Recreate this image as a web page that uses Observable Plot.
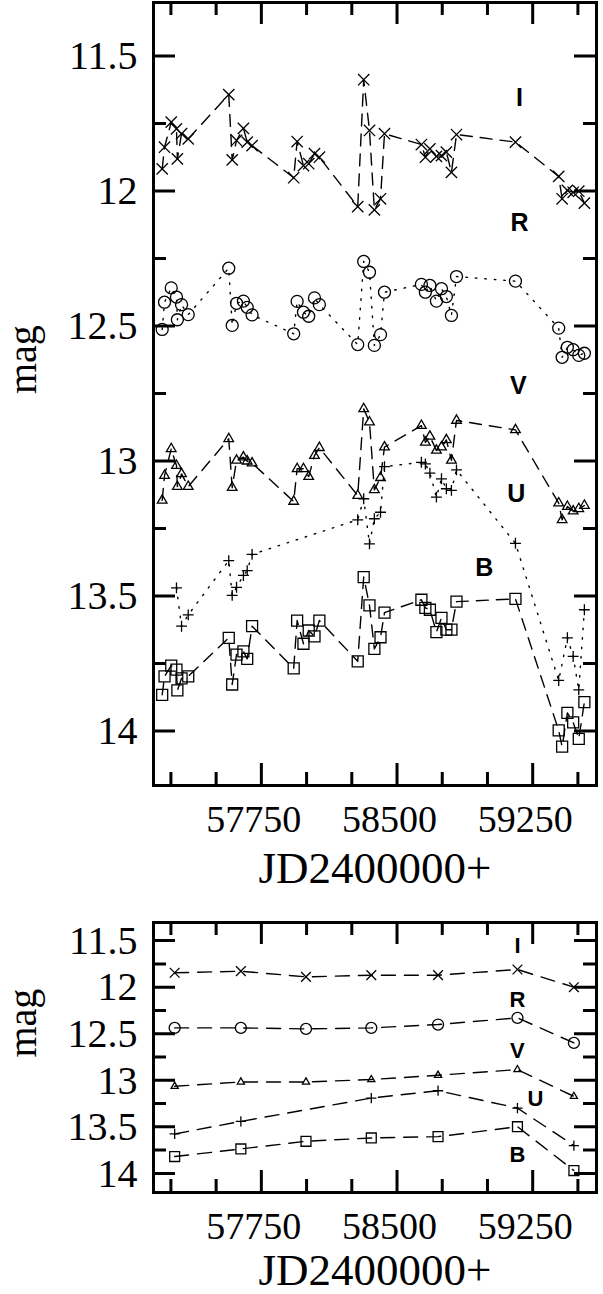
<!DOCTYPE html>
<html>
<head>
<meta charset="utf-8">
<script src="https://cdn.jsdelivr.net/npm/d3@7"></script>
<script src="https://cdn.jsdelivr.net/npm/@observablehq/plot@0.6"></script>
<style>
  body { margin: 0; background: #fff; }
  svg { display: block; }
</style>
</head>
<body>
<div id="chart"></div>
<script>
// ---- Individual observations (top panel) ----
const jd = [
  57199, 57212, 57249, 57278, 57283, 57306, 57343,
  57567, 57586, 57610, 57648, 57669, 57696,
  57926, 57945, 57980, 58009, 58041, 58068,
  58280, 58313, 58345, 58372, 58406, 58428,
  58632, 58654, 58679, 58715, 58743, 58770, 58798, 58826,
  59152,
  59391, 59410, 59439, 59471, 59502, 59533
];
const magI = [
  11.916, 11.836, 11.743, 11.768, 11.879, 11.786, 11.805,
  11.641, 11.883, 11.811, 11.766, 11.817, 11.830,
  11.949, 11.815, 11.904, 11.897, 11.860, 11.873,
  12.056, 11.586, 11.774, 12.068, 12.027, 11.786,
  11.826, 11.873, 11.842, 11.870, 11.867, 11.854, 11.929, 11.789,
  11.817,
  11.944, 12.027, 11.996, 12.003, 11.999, 12.043
];
const magR = [
  12.511, 12.410, 12.357, 12.391, 12.475, 12.419, 12.456,
  12.284, 12.496, 12.414, 12.406, 12.429, 12.457,
  12.527, 12.407, 12.447, 12.462, 12.394, 12.419,
  12.567, 12.259, 12.299, 12.570, 12.530, 12.373,
  12.344, 12.373, 12.348, 12.406, 12.360, 12.389, 12.459, 12.315,
  12.332,
  12.506, 12.614, 12.577, 12.586, 12.607, 12.599
];
const magV = [
  13.144, 13.052, 12.953, 13.015, 13.093, 13.046, 13.093,
  12.916, 13.097, 12.996, 12.984, 12.999, 13.006,
  13.148, 13.027, 13.027, 13.056, 12.978, 12.949,
  13.126, 12.805, 12.854, 13.105, 13.060, 12.947,
  12.867, 12.929, 12.907, 12.959, 12.947, 12.920, 12.996, 12.848,
  12.883,
  13.154, 13.216, 13.167, 13.184, 13.175, 13.163
];
const magU = [
  null, null, null, 13.468, null, 13.610, 13.568,
  13.367, 13.496, 13.466, 13.422, 13.404, 13.344,
  null, null, null, null, null, null,
  13.216, 13.138, 13.305, 13.212, 13.188, 13.019,
  13.003, 13.009, 13.043, 13.132, 13.064, 13.101, 13.107, 13.031,
  13.303,
  13.811, null, 13.653, 13.722, 13.846, 13.549
];
const magB = [
  13.864, 13.796, 13.756, 13.771, 13.848, 13.803, 13.796,
  13.653, 13.826, 13.715, 13.703, 13.731, 13.610,
  13.766, 13.589, 13.675, 13.626, 13.648, 13.589,
  13.740, 13.428, 13.533, 13.694, 13.651, 13.560,
  13.512, 13.542, 13.549, 13.632, 13.579, 13.623, 13.623, 13.519,
  13.509,
  13.996, 14.056, 13.931, 13.966, 14.027, 13.891
];

// ---- Seasonal means (bottom panel) ----
const seasonJD = [57268, 57634, 57994, 58355, 58724, 59163, 59475];
const seasonI = [11.840, 11.823, 11.884, 11.866, 11.866, 11.805, 11.995];
const seasonR = [12.432, 12.432, 12.443, 12.432, 12.396, 12.324, 12.593];
const seasonV = [13.059, 13.013, 13.013, 12.987, 12.941, 12.880, 13.167];
const seasonU = [13.571, 13.436, null, 13.186, 13.107, 13.293, 13.696];
const seasonB = [13.814, 13.732, 13.650, 13.614, 13.600, 13.493, 13.964];

// ---- Band names and where their labels sit (JD, mag) ----
const bands = ["I", "R", "V", "U", "B"];
const topLabelJD  = [59174, 59174, 59168, 59157, 58980];
const topLabelMag = [11.652, 12.115, 12.719, 13.119, 13.396];
const botLabelJD  = [59163, 59163, 59163, 59263, 59163];
const botLabelMag = [11.554, 12.127, 12.683, 13.19, 13.80];

// ---- Axis ticks ----
const xMajor = [57750, 58500, 59250];
const xMinor = [57250, 57500, 58000, 58250, 58750, 59000, 59500];
const yMajor = [11.5, 12, 12.5, 13, 13.5, 14];
const yMinor = [11.75, 12.25, 12.75, 13.25, 13.75];
const xDomain = [57151, 59600];
const yDomain = [11.3, 14.2];

const serif = "'Liberation Serif', 'Times New Roman', serif";
const sans = "'Liberation Sans', Arial, sans-serif";
const WIDTH = 603, ML = 153, MR = 7;

function rows(xs, series) {
  const out = [];
  bands.forEach((b, i) => {
    xs.forEach((x, j) => {
      const m = series[i][j];
      if (m != null) out.push({band: b, jd: x, mag: m});
    });
  });
  return out;
}

const topRows = rows(jd, [magI, magR, magV, magU, magB]);
const botRows = rows(seasonJD, [seasonI, seasonR, seasonV, seasonU, seasonB]);

const symbolOf = {I: "times", R: "circle", V: "triangle2", U: "plus", B: "square2"};

function panel(opt) {
  const marks = [];
  for (const b of bands) {
    const d = opt.data.filter(r => r.band === b);
    marks.push(Plot.line(d, {x: "jd", y: "mag", stroke: "black", strokeWidth: 1.4,
      strokeDasharray: opt.dash[b]}));
  }
  for (const b of bands) {
    const d = opt.data.filter(r => r.band === b);
    marks.push(Plot.dot(d, {x: "jd", y: "mag", symbol: () => symbolOf[b], r: opt.r[b],
      stroke: "black", fill: "none", strokeWidth: 1.3}));
  }
  marks.push(
    Plot.frame({stroke: "black", strokeWidth: 3}),
    Plot.axisY(yMajor, {anchor: "left", tickSize: 0, tickPadding: 16, fontSize: 40,
      fontFamily: serif, tickFormat: d => String(d), label: null}),
    Plot.axisX(xMajor, {anchor: "bottom", tickSize: 0, tickPadding: 20, fontSize: 38, dx: -8,
      fontFamily: serif, tickFormat: d => String(d), label: null}),
    Plot.text(["mag"], {frameAnchor: "left", dx: -130, rotate: -90, text: d => d,
      fontSize: 40, fontFamily: serif, fill: "black"}),
    Plot.text(["JD2400000+"], {frameAnchor: "bottom", dy: opt.jdOffset, text: d => d,
      fontSize: 45, fontFamily: serif, fill: "black", lineAnchor: "middle"}),
    Plot.text(bands.map((b, i) => ({band: b, jd: opt.labelJD[i], mag: opt.labelMag[i]})),
      {x: "jd", y: "mag", text: "band", fontFamily: sans, fontWeight: "bold",
       fontSize: opt.labelSize, fill: "black"})
  );
  const svg = Plot.plot({
    width: WIDTH,
    height: opt.height,
    marginTop: opt.marginTop,
    marginBottom: opt.marginBottom,
    marginLeft: ML,
    marginRight: MR,
    x: {domain: xDomain, label: null},
    y: {domain: yDomain, reverse: true, label: null},
    style: {background: "white", color: "black", fontFamily: serif},
    marks
  });
  addTicks(svg, opt);
  return svg;
}

// Inward ticks on all four sides, positioned with the plot's own x and y scales.
function addTicks(svg, opt) {
  let X, Y;
  if (typeof svg.scale === "function" && svg.scale("x") && svg.scale("y")) {
    const sx = svg.scale("x"), sy = svg.scale("y");
    X = d3.scaleLinear(sx.domain, sx.range);
    Y = d3.scaleLinear(sy.domain, sy.range);
  } else {
    X = d3.scaleLinear(xDomain, [ML, WIDTH - MR]);
    Y = d3.scaleLinear(yDomain, [opt.marginTop, opt.height - opt.marginBottom]);
  }
  const [xl, xr] = d3.extent(X.range());
  const [yt, yb] = d3.extent(Y.range());
  let d = "";
  for (const v of yMajor) d += `M${xl},${Y(v)}h22M${xr},${Y(v)}h-22`;
  for (const v of yMinor) d += `M${xl},${Y(v)}h13M${xr},${Y(v)}h-13`;
  for (const v of xMajor) d += `M${X(v)},${yb}v-22M${X(v)},${yt}v22`;
  for (const v of xMinor) d += `M${X(v)},${yb}v-13M${X(v)},${yt}v13`;
  d3.select(svg).append("path")
    .attr("d", d)
    .attr("fill", "none")
    .attr("stroke", "black")
    .attr("stroke-width", 3);
}

const topPanel = panel({
  data: topRows, height: 900, marginTop: 2, marginBottom: 115, jdOffset: 83,
  dash: {I: "12,8", R: "1.5,8", V: "12,8", U: "1.5,8", B: "12,8"},
  r: {I: 5.2, R: 6, V: 4.6, U: 3.6, B: 7},
  labelJD: topLabelJD, labelMag: topLabelMag, labelSize: 25
});
const bottomPanel = panel({
  data: botRows, height: 394, marginTop: 22, marginBottom: 102, jdOffset: 78,
  dash: {I: "14,9", R: "14,9", V: "14,9", U: "14,9", B: "14,9"},
  r: {I: 4.5, R: 5.5, V: 3.4, U: 3.4, B: 6.3},
  labelJD: botLabelJD, labelMag: botLabelMag, labelSize: 22
});

document.getElementById("chart").append(topPanel, bottomPanel);
</script>
</body>
</html>
